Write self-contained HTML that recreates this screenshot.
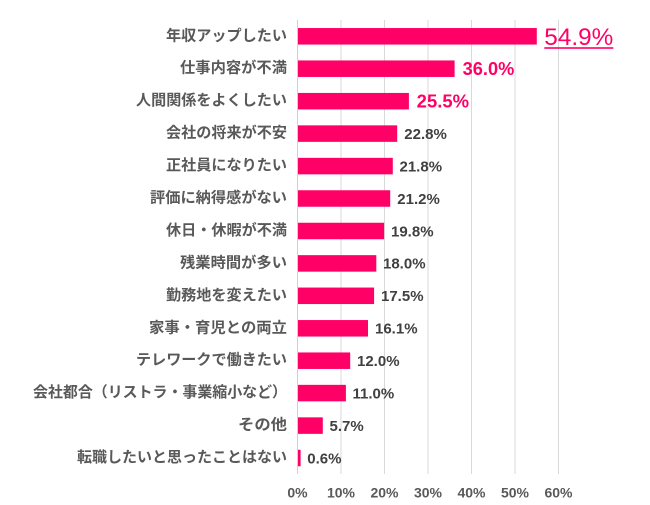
<!DOCTYPE html>
<html lang="ja">
<head>
<meta charset="utf-8">
<style>
  html,body{margin:0;padding:0;background:#fff;}
  svg{display:block;}
  .lab{font-family:"Liberation Sans","Noto Sans CJK JP",sans-serif;font-size:15px;font-weight:bold;fill:#595959;}
  .val{font-family:"Liberation Sans","Noto Sans CJK JP",sans-serif;font-size:15px;font-weight:bold;fill:#404040;}
  .tick{font-family:"Liberation Sans",sans-serif;font-size:14px;font-weight:bold;fill:#595959;}
</style>
</head>
<body>
<svg width="650" height="505" viewBox="0 0 650 505" xmlns="http://www.w3.org/2000/svg">
  <rect width="650" height="505" fill="#fff"/>
  <!-- gridlines -->
  <g stroke="#d9d9d9" stroke-width="1">
    <line x1="341" y1="20" x2="341" y2="474"/>
    <line x1="384.5" y1="20" x2="384.5" y2="474"/>
    <line x1="428" y1="20" x2="428" y2="474"/>
    <line x1="471.5" y1="20" x2="471.5" y2="474"/>
    <line x1="515" y1="20" x2="515" y2="474"/>
    <line x1="558.5" y1="20" x2="558.5" y2="474"/>
  </g>
  <line x1="297.5" y1="20" x2="297.5" y2="474" stroke="#d0d0d0" stroke-width="1"/>

  <!-- bars -->
  <g fill="#ff0066">
    <rect x="298" y="28.05" width="238.8" height="16.5"/>
    <rect x="298" y="60.45" width="156.6" height="16.5"/>
    <rect x="298" y="92.95" width="110.9" height="16.5"/>
    <rect x="298" y="125.35" width="99.2" height="16.5"/>
    <rect x="298" y="157.85" width="94.8" height="16.5"/>
    <rect x="298" y="190.25" width="92.2" height="16.5"/>
    <rect x="298" y="222.75" width="86.1" height="16.5"/>
    <rect x="298" y="255.15" width="78.3" height="16.5"/>
    <rect x="298" y="287.55" width="76.1" height="16.5"/>
    <rect x="298" y="320.05" width="70" height="16.5"/>
    <rect x="298" y="352.45" width="52.2" height="16.5"/>
    <rect x="298" y="384.85" width="47.9" height="16.5"/>
    <rect x="298" y="417.35" width="24.8" height="16.5"/>
    <rect x="298" y="449.75" width="2.6" height="16.5"/>
  </g>

  <!-- category labels -->
  <g class="lab" text-anchor="end">
    <text x="287" y="40.3" textLength="121" lengthAdjust="spacingAndGlyphs">年収アップしたい</text>
    <text x="287" y="72.7" textLength="107" lengthAdjust="spacingAndGlyphs">仕事内容が不満</text>
    <text x="287" y="105.2" textLength="151" lengthAdjust="spacingAndGlyphs">人間関係をよくしたい</text>
    <text x="287" y="137.6" textLength="121" lengthAdjust="spacingAndGlyphs">会社の将来が不安</text>
    <text x="287" y="170.1" textLength="121" lengthAdjust="spacingAndGlyphs">正社員になりたい</text>
    <text x="287" y="202.5" textLength="137" lengthAdjust="spacingAndGlyphs">評価に納得感がない</text>
    <text x="287" y="235" textLength="121" lengthAdjust="spacingAndGlyphs">休日・休暇が不満</text>
    <text x="287" y="267.4" textLength="107" lengthAdjust="spacingAndGlyphs">残業時間が多い</text>
    <text x="287" y="299.8" textLength="121" lengthAdjust="spacingAndGlyphs">勤務地を変えたい</text>
    <text x="287" y="332.3" textLength="138" lengthAdjust="spacingAndGlyphs">家事・育児との両立</text>
    <text x="287" y="364.7" textLength="151" lengthAdjust="spacingAndGlyphs">テレワークで働きたい</text>
    <text x="287" y="397.1" textLength="254" lengthAdjust="spacingAndGlyphs">会社都合（リストラ・事業縮小など）</text>
    <text x="287" y="429.6" textLength="49" lengthAdjust="spacingAndGlyphs">その他</text>
    <text x="287" y="462" textLength="210" lengthAdjust="spacingAndGlyphs">転職したいと思ったことはない</text>
  </g>

  <!-- highlighted values -->
  <text x="544.3" y="44.8" font-family="Liberation Sans, sans-serif" font-size="24" fill="#ff0066" textLength="69" lengthAdjust="spacingAndGlyphs">54.9%</text>
  <rect x="544.3" y="47.2" width="69" height="1.6" fill="#ff0066"/>
  <text x="462.7" y="75.1" font-family="Liberation Sans, sans-serif" font-size="18" font-weight="bold" fill="#ff0066" textLength="51.6" lengthAdjust="spacingAndGlyphs">36.0%</text>
  <text x="416.7" y="107.6" font-family="Liberation Sans, sans-serif" font-size="18" font-weight="bold" fill="#ff0066" textLength="52.3" lengthAdjust="spacingAndGlyphs">25.5%</text>

  <!-- values -->
  <g class="val">
    <text x="404.3" y="138.9">22.8%</text>
    <text x="399.5" y="171.4">21.8%</text>
    <text x="397.3" y="203.8">21.2%</text>
    <text x="391" y="236.3">19.8%</text>
    <text x="383" y="268.7">18.0%</text>
    <text x="381" y="301.1">17.5%</text>
    <text x="375" y="333.6">16.1%</text>
    <text x="357" y="366">12.0%</text>
    <text x="352.5" y="398.4">11.0%</text>
    <text x="329.5" y="430.9">5.7%</text>
    <text x="307.3" y="463.3">0.6%</text>
  </g>

  <!-- axis tick labels -->
  <g class="tick" text-anchor="middle">
    <text x="297.5" y="497.7">0%</text>
    <text x="341" y="497.7">10%</text>
    <text x="384.5" y="497.7">20%</text>
    <text x="428" y="497.7">30%</text>
    <text x="471.5" y="497.7">40%</text>
    <text x="515" y="497.7">50%</text>
    <text x="558.5" y="497.7">60%</text>
  </g>
</svg>
</body>
</html>
